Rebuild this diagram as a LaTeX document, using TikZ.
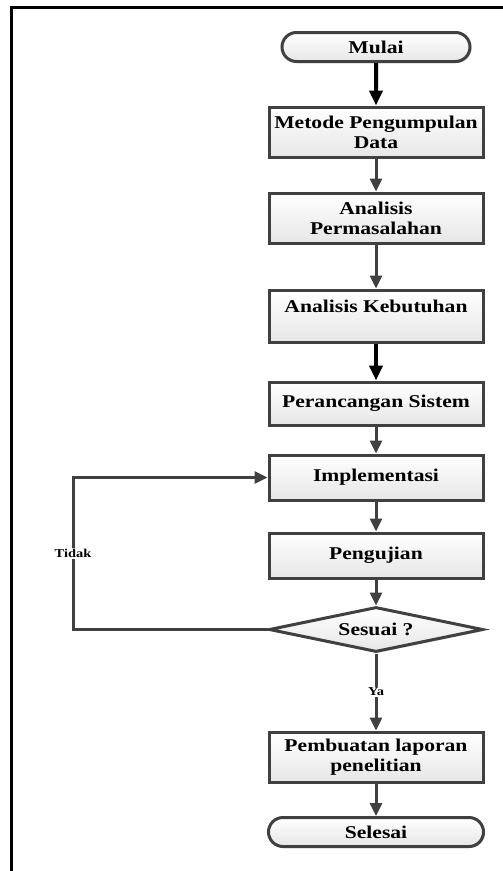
\documentclass[tikz,border=0pt]{standalone}
\usepackage{fontspec}
\setmainfont[FakeStretch=1.2]{Liberation Serif}
\usetikzlibrary{shapes.misc,shapes.geometric,arrows.meta,shadows}
\definecolor{edge}{HTML}{404040}
\definecolor{boxlow}{HTML}{E6E6E6}
\tikzset{
  stepbox/.style={draw=edge, line width=3pt, rectangle, minimum width=214pt,
    inner sep=0pt, top color=white, bottom color=boxlow, align=center,
    font=\fontsize{18}{20}\selectfont\bfseries,
    drop shadow={shadow xshift=1.5pt, shadow yshift=-1.5pt, fill=black!25, opacity=.6}},
  termbox/.style={stepbox, rounded rectangle, minimum height=29pt},
  decision/.style={stepbox, diamond, aspect=4.75, minimum width=214pt, minimum height=45pt},
  flow/.style={draw=edge, line width=3pt, -{Triangle[length=13pt,width=12pt]}},
  boldflow/.style={draw=black, line width=4pt, -{Triangle[length=15pt,width=13pt]}},
  tag/.style={font=\fontsize{12}{12}\selectfont\bfseries, fill=white, inner sep=1pt}
}
\begin{document}
\begin{tikzpicture}[x=1pt,y=-1pt]
\useasboundingbox (0,0) rectangle (503,871);
% page frame (top and left edges)
\draw[line width=3.5pt] (11.5,871) -- (11.5,7.5) -- (503,7.5);

\node[termbox, minimum width=188pt] (mulai) at (376,47) {Mulai};
\node[stepbox, minimum height=50pt] (metode) at (376,132) {Metode Pengumpulan\\Data};
\node[stepbox, minimum height=50pt] (masalah) at (376,218) {Analisis\\Permasalahan};
\node[stepbox, minimum height=52pt] (butuh) at (376,316) {Analisis Kebutuhan\\~};
\node[stepbox, minimum height=43pt] (rancang) at (376,403.5) {Perancangan Sistem};
\node[stepbox, minimum height=45pt] (impl) at (376,477.5) {Implementasi};
\node[stepbox, minimum height=45pt] (uji) at (376,555.5) {Pengujian};
\node[decision] (sesuai) at (376,629.5) {Sesuai ?};
\node[stepbox, minimum height=50pt] (lapor) at (376,757) {Pembuatan laporan\\penelitian};
\node[termbox, minimum width=215pt] (selesai) at (376,832) {Selesai};

\coordinate (loopbot) at (73,629.5);
\coordinate (looptop) at (73,477.5);

\draw[boldflow] (mulai) -- (metode);
\draw[flow] (metode) -- (masalah);
\draw[flow] (masalah) -- (butuh);
\draw[boldflow] (butuh) -- (rancang);
\draw[flow] (rancang) -- (impl);
\draw[flow] (impl) -- (uji);
\draw[flow] (uji) -- (sesuai);
\draw[flow] (sesuai) -- node[tag, pos=0.5] {Ya} (lapor);
\draw[flow] (lapor) -- (selesai);
\draw[flow] (sesuai.west) -- (loopbot) -- node[tag, pos=0.5] {Tidak} (looptop) -- (impl.west);
\end{tikzpicture}
\end{document}
